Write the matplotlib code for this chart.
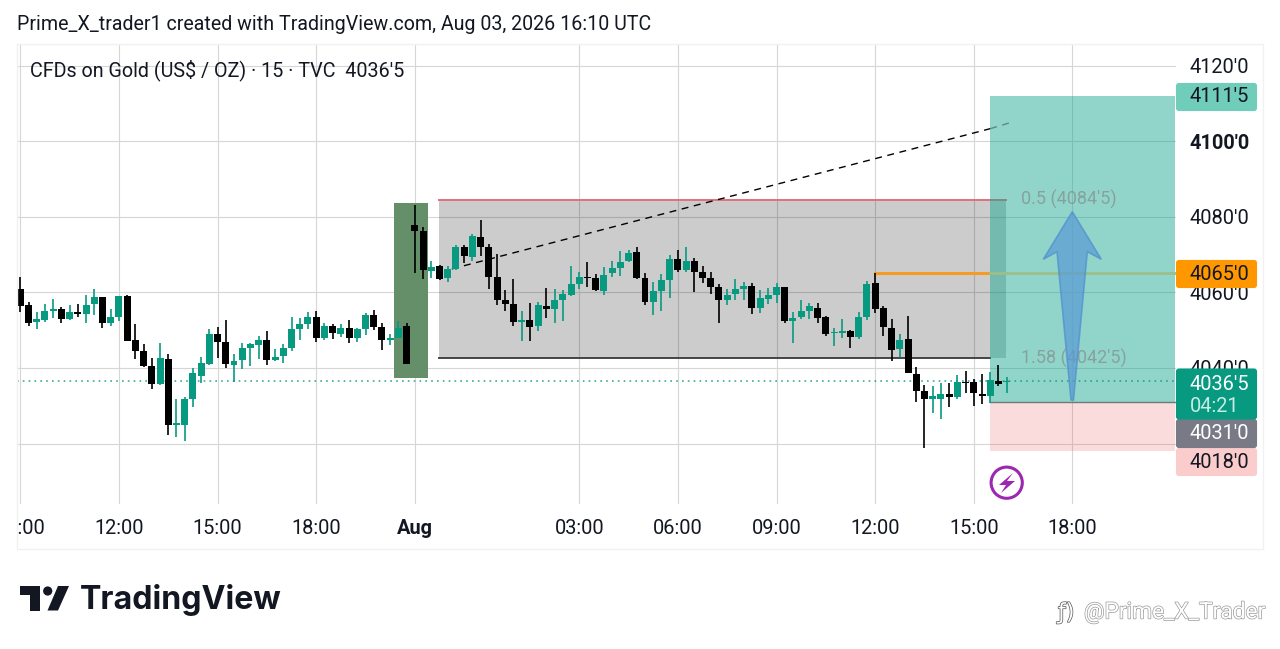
import matplotlib
matplotlib.use('Agg')
import matplotlib.pyplot as plt
import matplotlib.patheffects as pe
from matplotlib.patches import Rectangle, FancyBboxPatch, Polygon, Circle

plt.rcParams['font.family'] = ['Roboto', 'DejaVu Sans']

# 15 min candles
candle_top = [
    4060.8, 4056.7, 4053.0, 4055.0, 4055.7, 4055.5, 4054.7, 4054.7, 4056.7, 4058.7,
    4058.8, 4053.6, 4059.1, 4059.1, 4047.3, 4044.4, 4040.5, 4042.5, 4042.3, 4025.3,
    4031.7, 4038.6, 4041.4, 4049.0, 4049.0, 4046.9, 4041.9, 4045.4, 4046.2, 4047.4,
    4047.4, 4043.0, 4045.4, 4050.4, 4051.6, 4053.6, 4053.6, 4051.1, 4051.1, 4050.6,
    4050.6, 4050.4, 4054.0, 4054.0, 4050.8, 4048.0, 4050.6, 4051.0, 4077.9, 4076.3,
    4066.8, 4066.9, 4066.3, 4072.1, 4072.1, 4074.9, 4074.6, 4071.9, 4064.1, 4058.1,
    4057.0, 4052.7, 4052.6, 4056.6, 4056.3, 4057.9, 4059.6, 4062.1, 4064.1, 4064.0,
    4063.8, 4064.6, 4066.5, 4068.1, 4070.3, 4070.6, 4063.8, 4060.4, 4063.3, 4068.8,
    4068.9, 4068.4, 4068.4, 4065.5, 4063.8, 4061.4, 4059.3, 4060.8, 4061.7, 4061.7,
    4058.4, 4059.3, 4061.4, 4061.4, 4053.3, 4055.1, 4056.3, 4055.9, 4053.4, 4049.6,
    4049.7, 4049.8, 4053.6, 4062.3, 4062.5, 4055.8, 4050.6, 4047.4, 4047.6, 4038.3,
    4034.0, 4032.5, 4033.0, 4033.0, 4036.3, 4036.4, 4036.2, 4033.1, 4036.7, 4036.6,
    4036.5,
]
candle_bottom = [
    4056.5, 4052.0, 4052.1, 4052.8, 4055.0, 4053.0, 4053.0, 4054.3, 4054.3, 4056.8,
    4051.8, 4051.8, 4053.6, 4047.0, 4044.4, 4040.6, 4035.8, 4035.8, 4024.8, 4024.8,
    4025.0, 4031.7, 4037.8, 4041.0, 4046.8, 4041.0, 4040.9, 4042.1, 4045.4, 4046.0,
    4042.2, 4042.2, 4043.1, 4045.2, 4050.3, 4051.6, 4047.8, 4047.8, 4049.3, 4049.0,
    4047.8, 4047.8, 4050.4, 4050.9, 4047.4, 4047.4, 4048.0, 4041.0, 4076.3, 4065.9,
    4065.6, 4063.5, 4063.7, 4066.2, 4069.6, 4069.4, 4072.0, 4064.1, 4058.1, 4056.9,
    4052.2, 4052.1, 4050.9, 4051.1, 4055.6, 4055.6, 4057.9, 4059.3, 4062.1, 4063.7,
    4060.5, 4060.4, 4065.0, 4066.4, 4068.2, 4063.8, 4057.5, 4057.4, 4060.3, 4063.3,
    4065.9, 4065.9, 4065.5, 4063.9, 4061.4, 4057.9, 4057.9, 4059.5, 4060.8, 4055.9,
    4055.9, 4058.2, 4059.3, 4052.4, 4052.3, 4053.4, 4055.1, 4053.2, 4049.1, 4049.2,
    4049.2, 4048.2, 4048.2, 4053.5, 4055.5, 4050.7, 4044.7, 4044.9, 4038.7, 4034.0,
    4031.7, 4031.8, 4031.7, 4032.4, 4032.2, 4036.1, 4033.3, 4032.7, 4032.7, 4035.8,
    4036.3,
]
candle_high = [
    4064.0, 4057.5, 4054.7, 4057.0, 4058.3, 4056.0, 4056.6, 4057.0, 4059.4, 4061.0,
    4058.8, 4055.7, 4059.1, 4059.4, 4051.5, 4046.2, 4042.7, 4046.7, 4043.8, 4031.9,
    4032.4, 4040.0, 4042.8, 4050.3, 4050.7, 4052.6, 4043.6, 4046.5, 4046.5, 4048.4,
    4049.9, 4045.0, 4046.3, 4053.4, 4053.1, 4054.7, 4055.0, 4051.8, 4051.6, 4051.5,
    4052.8, 4050.6, 4054.6, 4055.4, 4051.8, 4049.1, 4052.4, 4052.0, 4083.1, 4077.2,
    4068.4, 4067.2, 4067.0, 4072.5, 4072.4, 4075.4, 4079.2, 4072.8, 4070.1, 4060.6,
    4063.6, 4055.1, 4057.1, 4057.5, 4061.1, 4060.8, 4060.6, 4067.0, 4065.5, 4067.9,
    4064.9, 4066.6, 4068.3, 4070.9, 4071.2, 4071.9, 4065.2, 4062.8, 4064.9, 4069.9,
    4071.2, 4072.1, 4069.0, 4067.0, 4065.3, 4062.1, 4060.9, 4063.4, 4062.8, 4062.6,
    4060.6, 4061.1, 4062.4, 4061.5, 4054.9, 4058.0, 4057.3, 4057.1, 4053.7, 4050.5,
    4052.9, 4050.0, 4054.9, 4063.1, 4065.0, 4056.4, 4052.9, 4049.0, 4053.7, 4040.3,
    4035.4, 4035.2, 4036.1, 4035.9, 4038.1, 4039.3, 4037.1, 4038.4, 4038.8, 4040.9,
    4037.7,
]
candle_low = [
    4054.9, 4051.1, 4050.2, 4052.1, 4053.1, 4051.8, 4052.8, 4053.4, 4052.0, 4054.0,
    4050.6, 4051.1, 4052.3, 4047.0, 4042.3, 4040.3, 4034.4, 4035.4, 4022.3, 4021.7,
    4020.7, 4029.7, 4035.9, 4040.8, 4042.5, 4040.0, 4036.4, 4039.7, 4040.5, 4042.3,
    4040.9, 4041.8, 4041.3, 4044.6, 4047.4, 4050.2, 4046.8, 4047.4, 4047.6, 4048.2,
    4046.7, 4046.8, 4048.7, 4050.0, 4044.8, 4046.0, 4047.8, 4041.0, 4065.0, 4063.5,
    4063.7, 4063.2, 4062.8, 4065.9, 4067.7, 4068.4, 4069.7, 4061.0, 4056.6, 4055.1,
    4051.1, 4047.1, 4047.2, 4049.9, 4053.1, 4051.8, 4052.5, 4058.9, 4060.8, 4061.5,
    4060.4, 4059.2, 4064.1, 4064.3, 4068.0, 4063.6, 4056.6, 4054.0, 4055.1, 4058.6,
    4065.5, 4065.5, 4060.2, 4062.4, 4059.5, 4051.8, 4056.6, 4058.1, 4058.1, 4054.3,
    4054.6, 4056.9, 4057.1, 4052.0, 4046.5, 4052.9, 4052.9, 4051.8, 4048.5, 4045.8,
    4047.8, 4045.2, 4047.6, 4052.7, 4054.4, 4048.4, 4041.9, 4043.0, 4038.7, 4031.1,
    4018.9, 4028.0, 4026.4, 4029.7, 4031.9, 4033.4, 4030.0, 4030.4, 4030.6, 4035.2,
    4033.3,
]
candle_up = [
    0, 0, 1, 1, 1, 0, 1, 0, 1, 1,
    0, 1, 1, 0, 0, 0, 0, 1, 0, 1,
    1, 1, 1, 1, 0, 0, 1, 1, 1, 1,
    0, 1, 1, 1, 1, 1, 0, 1, 0, 1,
    0, 1, 1, 0, 0, 1, 1, 0, 0, 0,
    1, 0, 1, 1, 0, 1, 0, 0, 0, 0,
    0, 1, 0, 1, 0, 1, 1, 1, 1, 0,
    0, 1, 1, 1, 1, 0, 0, 1, 1, 1,
    0, 1, 0, 0, 0, 0, 1, 1, 1, 0,
    1, 1, 1, 0, 1, 1, 1, 0, 0, 1,
    1, 0, 1, 1, 0, 0, 0, 1, 0, 0,
    0, 1, 1, 0, 1, 0, 0, 0, 1, 0,
    1,
]

time_ticks = [0, 12, 24, 36, 48, 68, 80, 92, 104, 116, 128]
time_labels = ['09:00', '12:00', '15:00', '18:00', 'Aug', '03:00', '06:00', '09:00', '12:00', '15:00', '18:00']
price_ticks = [4020, 4040, 4060, 4080, 4100, 4120]
price_labels = ["", "4040'0", "4060'0", "4080'0", "4100'0", "4120'0"]

last_price = 4036.5
fib_high = 4084.5
fib_low = 4042.5
entry = 4031.0
target = 4111.5
stop = 4018.0
orange_level = 4065.0

GREEN = '#089981'
W, H = 1280, 649

fig = plt.figure(figsize=(W / 100, H / 100), dpi=100, facecolor='white')

# price pane: 17..1176 px wide, 44..504 px high
ax = fig.add_axes([17 / W, 1 - 504 / H, (1176 - 17) / W, (504 - 44) / H])
ax.set_xlim(-0.40, 140.6)
ax.set_ylim(4004.0, 4125.7)
for s in ax.spines.values():
    s.set_visible(False)
ax.set_axisbelow(True)
ax.grid(True, color='#d6d6d6', lw=0.8)
ax.yaxis.tick_right()
ax.set_xticks(time_ticks, time_labels)
ax.set_yticks(price_ticks, price_labels)
ax.tick_params(axis='both', length=0, labelsize=14.4, colors='#131722')
ax.tick_params(axis='x', pad=10.5)
ax.tick_params(axis='y', pad=10)
for lab in ax.get_xticklabels():
    if lab.get_text() == 'Aug':
        lab.set_fontweight('bold')
for lab in ax.get_yticklabels():
    if lab.get_text() == "4100'0":
        lab.set_fontweight('bold')

# drawings under the candles
ax.add_patch(Rectangle((45.46, 4037.4), 4.17, 46.3, fc='#658f68', ec='none', zorder=1.5))
ax.add_patch(Rectangle((50.9, fib_low), 69.0, fib_high - fib_low, fc='black', alpha=0.2, ec='none', zorder=1.2))
ax.plot([50.9, 119.9], [fib_high, fib_high], color='#e0707f', lw=1.4, zorder=1.6)
ax.plot([50.9, 118.0], [fib_low, fib_low], color='#444444', lw=1.4, zorder=1.6)
ax.plot([104, 118], [orange_level, orange_level], color='#f59a23', lw=2.2, zorder=1.6)
ax.plot([52.5, 118], [4066.2, 4103.3], color='black', lw=1, ls=(0, (5, 4)), zorder=1.7)
ax.plot([118, 120.3], [4103.3, 4104.8], color='#5a8a80', lw=1, ls=(0, (5, 4)), zorder=1.9)
ax.add_patch(Rectangle((118, entry), 22.45, 4111.9 - entry, fc='#0fa58c', alpha=0.46, ec='none', zorder=1.8))
ax.add_patch(Rectangle((118, stop), 22.45, entry - stop, fc='#ef5350', alpha=0.2, ec='none', zorder=1.8))
ax.plot([118, 140.45], [entry, entry], color='#6f7a78', lw=1, zorder=1.9)
ax.plot([118, 140.45], [orange_level, orange_level], color='#9dbf8a', lw=2, zorder=1.9)
ax.plot([-0.4, 140.45], [last_price, last_price], color=GREEN, lw=1.2, ls=(0, (1, 2.5)), alpha=0.8, zorder=1.9)
ax.text(121.7, fib_high, "0.5 (4084'5)", color='#808080', alpha=0.6, fontsize=13, va='center', zorder=2)
ax.text(121.7, fib_low, "1.58 (4042'5)", color='#808080', alpha=0.6, fontsize=13, va='center', zorder=2)

# candles
for i in range(len(candle_top)):
    col = GREEN if candle_up[i] else 'black'
    ax.vlines(i, candle_low[i], candle_high[i], color=col, lw=1.2, zorder=3)
    ax.bar(i, candle_top[i] - candle_bottom[i], bottom=candle_bottom[i], width=0.85, color=col, lw=0, zorder=3.1)

# everything else in pixel coordinates
px = fig.add_axes([0, 0, 1, 1], facecolor='none')
px.set_xlim(0, W)
px.set_ylim(H, 0)
px.axis('off')

# cut the first time label off at the pane edge
px.add_patch(Rectangle((0, 508), 17, 38, fc='white', ec='none'))
px.add_patch(Rectangle((17, 44), 1246, 505, fc='none', ec='#f1f1f1', lw=1))

px.text(17, 25, 'Prime_X_trader1 created with TradingView.com, Aug 03, 2026 16:10 UTC',
        fontsize=14.1, color='#131722', va='center')
px.text(30, 70, "CFDs on Gold (US$ / OZ) · 15 · TVC  4036'5", fontsize=14.25, color='#131722', va='center')


def price_box(y0, y1, col, txt, txtcol):
    px.add_patch(FancyBboxPatch((1176.5, y0 + 0.5), 80, y1 - y0 - 1, boxstyle='round,pad=0,rounding_size=2.5',
                                fc=col, ec=col, lw=0.8))
    px.text(1190, (y0 + y1) / 2, txt, color=txtcol, fontsize=14.4, va='center')


price_box(83, 111, '#70cdb9', "4111'5", '#131722')
price_box(260, 288, '#ff9800', "4065'0", '#131722')
price_box(448, 476, '#fbcccc', "4018'0", '#131722')
price_box(419, 448, '#787b86', "4031'0", 'white')
px.add_patch(FancyBboxPatch((1176.5, 369), 80, 50, boxstyle='round,pad=0,rounding_size=2.5', fc=GREEN, ec=GREEN, lw=0.8))
px.text(1190, 385, "4036'5", color='white', fontsize=14.4, va='center')
px.text(1190, 407, '04:21', color='#c5ece4', fontsize=14.4, va='center')

# arrow
arrow_xy = [(1072.3, 211.7), (1101.3, 259.3), (1087.3, 251.7), (1073.5, 400), (1071, 400),
            (1057, 251.7), (1043.3, 259.3)]
px.add_patch(Polygon(arrow_xy, closed=True, fc='#5b9bd5', ec='#4f8fcf', alpha=0.72, lw=1.2))

# lightning icon
px.add_patch(Circle((1006.7, 482.7), 15.6, fc='white', ec='#9c27b0', lw=2.2))
bolt = [(1013, 473), (999, 485), (1006, 485), (1001, 493), (1015, 481), (1007, 481)]
px.add_patch(Polygon(bolt, closed=True, fc='#9c27b0', ec='none'))

# TradingView logo
px.add_patch(Polygon([(20, 586), (39.5, 586), (39.5, 610.5), (30, 610.5), (30, 595), (20, 595)], fc='#131722', ec='none'))
px.add_patch(Circle((47.7, 591), 4.6, fc='#131722', ec='none'))
px.add_patch(Polygon([(58, 586), (69, 586), (58, 610.5), (47.5, 610.5)], fc='#131722', ec='none'))
px.text(80, 600, 'TradingView', fontsize=23.2, fontfamily=['Inter', 'DejaVu Sans'], fontweight='bold',
        color='#131722', va='center')

# watermark
wm = px.text(1084, 612, '@Prime_X_Trader', fontsize=16.4, color='white', va='center')
wm.set_path_effects([pe.withStroke(linewidth=1.0, foreground='#9a9a9a')])
ic = px.text(1058, 613, 'ƒ)', fontsize=16, color='white', va='center', fontfamily=['DejaVu Sans'])
ic.set_path_effects([pe.withStroke(linewidth=1.0, foreground='#555555')])

fig.savefig('out.png', dpi=100)
